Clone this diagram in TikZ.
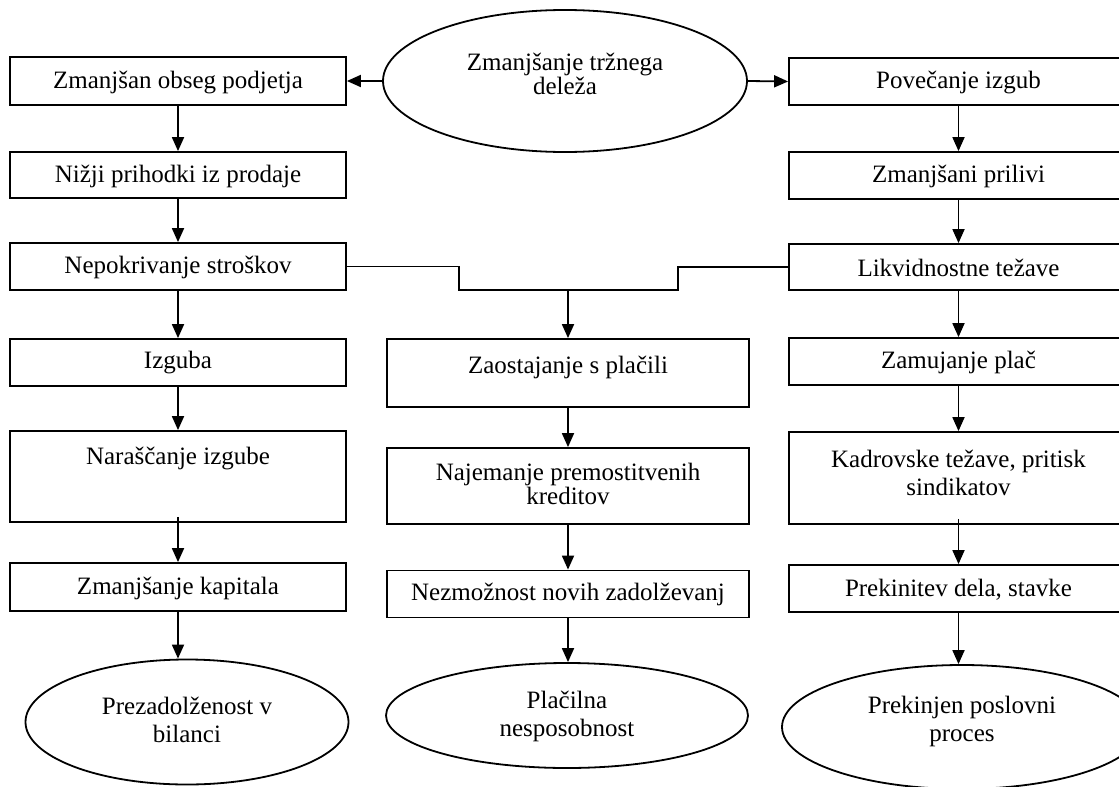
\documentclass[tikz,border=0pt]{standalone}
\usepackage{fontspec}
\setmainfont{Liberation Serif}
\usetikzlibrary{arrows.meta,shapes.geometric}
\begin{document}
\begin{tikzpicture}[x=1pt,y=-1pt,
  box/.style={draw=black, line width=1.8pt, rectangle, inner sep=0pt},
  oval/.style={draw=black, line width=1.8pt, ellipse, inner sep=0pt},
  txt/.style={font=\fontsize{25}{28}\selectfont, align=center, inner sep=0pt},
  tighttxt/.style={font=\fontsize{25}{22}\selectfont, align=center, inner sep=0pt},
  arr/.style={line width=1.8pt, -{Triangle[length=14pt,width=12pt]}},
  link/.style={line width=1.8pt}]
\clip (0,0) rectangle (1119,787);
\fill[white] (0,0) rectangle (1119,787);

% top ellipse
\node[oval, minimum width=364pt, minimum height=142pt] (e0) at (565,81) {};
\node[tighttxt] (e0t) at (565,74) {Zmanjšanje tržnega\\deleža};

% left column
\node[box, minimum width=336pt, minimum height=48pt] (b1) at (178,81) {};
\node[txt] (b1t) at (178,82) {Zmanjšan obseg podjetja};
\node[box, minimum width=336pt, minimum height=46pt] (b2) at (178,175) {};
\node[txt] (b2t) at (178,176) {Nižji prihodki iz prodaje};
\node[box, minimum width=336pt, minimum height=47pt] (b3) at (178,266.5) {};
\node[txt] (b3t) at (178,267.5) {Nepokrivanje stroškov};
\node[box, minimum width=336pt, minimum height=47pt] (b4) at (178,362.5) {};
\node[txt] (b4t) at (178,363) {Izguba};
\node[box, minimum width=336pt, minimum height=91pt] (b5) at (178,476.5) {};
\node[txt] (b5t) at (178,458) {Naraščanje izgube};
\node[box, minimum width=336pt, minimum height=48pt] (b6) at (178,587) {};
\node[txt] (b6t) at (178,588) {Zmanjšanje kapitala};
\node[oval, minimum width=323pt, minimum height=125pt] (e1) at (187,722) {};
\node[txt] (e1t) at (187,720) {Prezadolženost v\\bilanci};

% middle column
\node[box, minimum width=362pt, minimum height=68pt] (m1) at (568,373) {};
\node[txt] (m1t) at (568,367) {Zaostajanje s plačili};
\node[box, minimum width=362pt, minimum height=76pt] (m2) at (568,486) {};
\node[tighttxt] (m2t) at (568,484) {Najemanje premostitvenih\\kreditov};
\node[box, minimum width=362pt, minimum height=47pt] (m3) at (568,594) {};
\node[txt] (m3t) at (568,594.5) {Nezmožnost novih zadolževanj};
\node[oval, minimum width=362pt, minimum height=105pt] (e2) at (567,715.5) {};
\node[txt] (e2t) at (567,716.5) {Plačilna\\nesposobnost};

% right column
\node[box, minimum width=339pt, minimum height=47pt] (r1) at (958.5,81.5) {};
\node[txt] (r1t) at (958.5,82.5) {Povečanje izgub};
\node[box, minimum width=339pt, minimum height=47pt] (r2) at (958.5,175.5) {};
\node[txt] (r2t) at (958.5,176.5) {Zmanjšani prilivi};
\node[box, minimum width=339pt, minimum height=46pt] (r3) at (958.5,267) {};
\node[txt] (r3t) at (958.5,268) {Likvidnostne težave};
\node[box, minimum width=339pt, minimum height=47pt] (r4) at (958.5,361.5) {};
\node[txt] (r4t) at (958.5,362.5) {Zamujanje plač};
\node[box, minimum width=339pt, minimum height=92pt] (r5) at (958.5,478) {};
\node[txt] (r5t) at (958.5,472.5) {Kadrovske težave, pritisk\\sindikatov};
\node[box, minimum width=339pt, minimum height=47pt] (r6) at (958.5,588.5) {};
\node[txt] (r6t) at (958.5,589.5) {Prekinitev dela, stavke};
\node[oval, minimum width=360pt, minimum height=124pt] (e3) at (962,727) {};
\node[txt] (e3t) at (962,721.5) {Prekinjen poslovni\\proces};

% top arrows
\draw[arr] (e0.west) -- (b1.east);
\draw[arr] (e0.east) -- (r1.west);

% left column arrows
\draw[arr] (b1.south) -- (b2.north);
\draw[arr] (b2.south) -- (b3.north);
\draw[arr] (b3.south) -- (b4.north);
\draw[arr] (b4.south) -- (b5.north);
\draw[arr] ([yshift=6pt]b5.south) -- (b6.north);
\draw[arr] (b6.south) -- (b6.south |- e1.north);

% right column arrows
\draw[arr] (r1.south) -- (r2.north);
\draw[arr] (r2.south) -- (r3.north);
\draw[arr] (r3.south) -- (r4.north);
\draw[arr] (r4.south) -- (r5.north);
\draw[arr] ([yshift=6pt]r5.south) -- (r6.north);
\draw[arr] (r6.south) -- (r6.south |- e3.north);

% joining line
\coordinate (j1) at (459,290);
\coordinate (j2) at (678,290);
\coordinate (jm) at (568,290);
\draw[link] (b3.east) -- (b3.east -| j1) -- (j1) -- (j2) -- (j2 |- r3.west) -- (r3.west);

% middle column arrows
\draw[arr] (jm) -- (m1.north);
\draw[arr] (m1.south) -- (m2.north);
\draw[arr] (m2.south) -- (m3.north);
\draw[arr] (m3.south) -- (m3.south |- e2.north);
\end{tikzpicture}
\end{document}
